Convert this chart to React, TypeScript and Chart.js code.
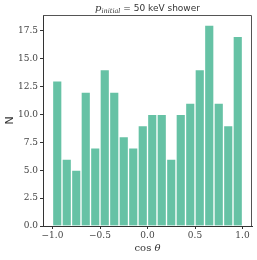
import React, { useEffect, useRef } from "react";
import { Chart, registerables } from "chart.js";

Chart.register(...registerables);

const binCenters = [-0.95, -0.85, -0.75, -0.65, -0.55, -0.45, -0.35, -0.25, -0.15, -0.05, 0.05, 0.15, 0.25, 0.35, 0.45, 0.55, 0.65, 0.75, 0.85, 0.95];
const counts = [13, 6, 5, 12, 7, 14, 12, 8, 7, 9, 10, 10, 6, 10, 11, 14, 18, 11, 9, 17];
const xTicks = [-1.0, -0.5, 0.0, 0.5, 1.0];
const yTicks = [0, 2.5, 5, 7.5, 10, 12.5, 15, 17.5];

const fmt = (v: number) => (v < 0 ? "\u2212" : "") + Math.abs(v).toFixed(1);

export default function App() {
  const ref = useRef<HTMLCanvasElement>(null);
  useEffect(() => {
    document.body.style.margin = "0";
    const textPlugin = {
      id: "texts",
      afterDraw(chart: any) {
        const { ctx, chartArea: a } = chart;
        ctx.save();
        ctx.strokeStyle = "#555";
        ctx.lineWidth = 1;
        ctx.beginPath();
        ctx.moveTo(a.left, a.top + 0.5);
        ctx.lineTo(a.right - 0.5, a.top + 0.5);
        ctx.lineTo(a.right - 0.5, a.bottom);
        ctx.stroke();
        const cx = (a.left + a.right) / 2;
        const ty = 11;
        ctx.fillStyle = "#333";
        ctx.textBaseline = "alphabetic";
        const pF = "italic 10px 'DejaVu Serif'";
        const sF = "italic 6.5px 'DejaVu Serif'";
        const rF = "9px 'DejaVu Sans'";
        ctx.font = pF; const wp = ctx.measureText("p").width;
        ctx.font = sF; const ws = ctx.measureText("initial").width;
        ctx.font = rF; const wr = ctx.measureText(" = 50 keV shower").width;
        let x = cx - (wp + ws + wr) / 2;
        ctx.textAlign = "left";
        ctx.font = pF; ctx.fillText("p", x, ty); x += wp;
        ctx.font = sF; ctx.fillText("initial", x, ty + 2); x += ws;
        ctx.font = rF; ctx.fillText(" = 50 keV shower", x, ty);
        const cF = "10px 'DejaVu Serif'";
        const thF = "italic 10px 'DejaVu Serif'";
        ctx.font = cF; const wc = ctx.measureText("cos ").width;
        ctx.font = thF; const wt = ctx.measureText("\u03b8").width;
        let lx = cx - (wc + wt) / 2;
        ctx.font = cF; ctx.fillText("cos ", lx, 251); lx += wc;
        ctx.font = thF; ctx.fillText("\u03b8", lx, 251);
        ctx.translate(10, (a.top + a.bottom) / 2);
        ctx.rotate(-Math.PI / 2);
        ctx.textAlign = "center";
        ctx.textBaseline = "middle";
        ctx.font = "11px 'DejaVu Sans'";
        ctx.fillText("N", 0, 0);
        ctx.restore();
      },
    };
    const chart = new Chart(ref.current!, {
      type: "bar",
      data: {
        datasets: [
          {
            data: binCenters.map((c, i) => ({ x: c, y: counts[i] })),
            backgroundColor: "#66c2a5",
            borderColor: "rgba(255,255,255,0.55)",
            borderWidth: 1,
            barPercentage: 1,
            categoryPercentage: 1,
          },
        ],
      },
      options: {
        animation: false,
        responsive: false,
        events: [],
        layout: { padding: { left: 0, right: 5, top: 15, bottom: 0 } },
        plugins: { legend: { display: false }, tooltip: { enabled: false } },
        scales: {
          x: {
            type: "linear",
            offset: false,
            min: -1.1,
            max: 1.1,
            afterBuildTicks: (s: any) => { s.ticks = xTicks.map((v) => ({ value: v })); },
            afterFit: (s: any) => { s.height = 34; },
            ticks: {
              callback: (v: any) => fmt(Number(v)),
              font: { family: "'DejaVu Serif'", size: 9 },
              color: "#444",
              padding: 1,
              maxRotation: 0,
            },
            grid: { offset: false, drawOnChartArea: false, tickLength: 3, tickColor: "#333" },
            border: { color: "#333", width: 1 },
          },
          y: {
            min: 0,
            max: 18.9,
            afterBuildTicks: (s: any) => { s.ticks = yTicks.map((v) => ({ value: v })); },
            afterFit: (s: any) => { s.width = 43; },
            ticks: {
              callback: (v: any) => fmt(Number(v)),
              font: { family: "'DejaVu Serif'", size: 9 },
              color: "#444",
              padding: 2,
            },
            grid: { drawOnChartArea: false, tickLength: 3, tickColor: "#333" },
            border: { color: "#333", width: 1 },
          },
        },
      },
      plugins: [textPlugin],
    });
    return () => chart.destroy();
  }, []);
  return (
    <div style={{ width: 257, height: 260 }}>
      <canvas ref={ref} width={257} height={260} style={{ display: "block" }} />
    </div>
  );
}
